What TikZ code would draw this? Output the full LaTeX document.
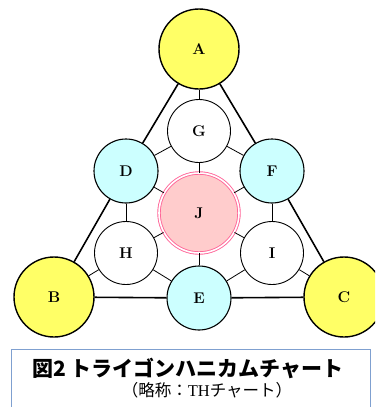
\documentclass[tikz,border=0pt]{standalone}
\usepackage{fontspec}
\newfontfamily\cjk{Noto Sans CJK JP}
\newfontfamily\latserif{Liberation Serif}
\definecolor{yel}{HTML}{FFFF66}
\definecolor{cya}{HTML}{CCFFFF}
\definecolor{pnkfill}{HTML}{FFCCCC}
\definecolor{pnkline}{HTML}{FF6699}
\definecolor{boxline}{HTML}{7FA0D0}
\tikzset{
  lbl/.style={font=\bfseries\fontsize{15.5}{15.5}\selectfont},
  bignode/.style={lbl, circle, draw=black, line width=1.4pt, fill=yel, minimum size=80pt, inner sep=0pt},
  midnode/.style={lbl, circle, draw=black, line width=1.1pt, fill=cya, minimum size=64pt, inner sep=0pt},
  whitenode/.style={lbl, circle, draw=black, line width=0.9pt, fill=white, minimum size=63pt, inner sep=0pt},
  centernode/.style={lbl, circle, draw=pnkline, double=white, double distance=1.6pt, line width=0.9pt, fill=pnkfill, minimum size=80pt, inner sep=0pt},
  thick edge/.style={line width=1.6pt, black},
  thin edge/.style={line width=0.8pt, black}
}
\begin{document}
\begin{tikzpicture}[x=1pt,y=-1pt]
\useasboundingbox (0,0) rectangle (375,407);
\clip (0,0) rectangle (375,407);
\fill[white] (0,0) rectangle (375,407);
% nodes
\node[bignode] (A) at (199,49) {A};
\node[bignode] (B) at (54,297) {B};
\node[bignode] (C) at (344,297) {C};
\node[midnode] (D) at (126,171) {D};
\node[midnode] (F) at (272,171) {F};
\node[midnode] (E) at (199,298) {E};
\node[whitenode] (G) at (199,131) {G};
\node[whitenode] (H) at (126,253) {H};
\node[whitenode] (I) at (272,253) {I};
\node[centernode] (J) at (199,213) {J};
% edges
\draw[thick edge] (A) -- (D);
\draw[thick edge] (D) -- (B);
\draw[thick edge] (A) -- (F);
\draw[thick edge] (F) -- (C);
\draw[thick edge] (B) -- (E);
\draw[thick edge] (E) -- (C);
\draw[thin edge] (A) -- (G);
\draw[thin edge] (G) -- (D);
\draw[thin edge] (G) -- (F);
\draw[thin edge] (G) -- (J);
\draw[thin edge] (D) -- (J);
\draw[thin edge] (F) -- (J);
\draw[thin edge] (D) -- (H);
\draw[thin edge] (F) -- (I);
\draw[thin edge] (H) -- (J);
\draw[thin edge] (I) -- (J);
\draw[thin edge] (H) -- (E);
\draw[thin edge] (I) -- (E);
\draw[thin edge] (E) -- (J);
\draw[thin edge] (H) -- (B);
\draw[thin edge] (I) -- (C);
% caption
\node[draw=boxline, line width=0.8pt, fill=white, minimum width=359pt, minimum height=70pt, inner sep=0pt, anchor=north west] (cap) at (11,349) {};
\node[font=\cjk\bfseries\fontsize{21}{21}\selectfont, anchor=center] (t1) at (188,368) {図2 トライゴンハニカムチャート};
\node[font=\cjk\fontsize{16.5}{16.5}\selectfont, anchor=center] (t2) at (207,390) {（略称：{\latserif TH}チャート）};
\end{tikzpicture}
\end{document}
